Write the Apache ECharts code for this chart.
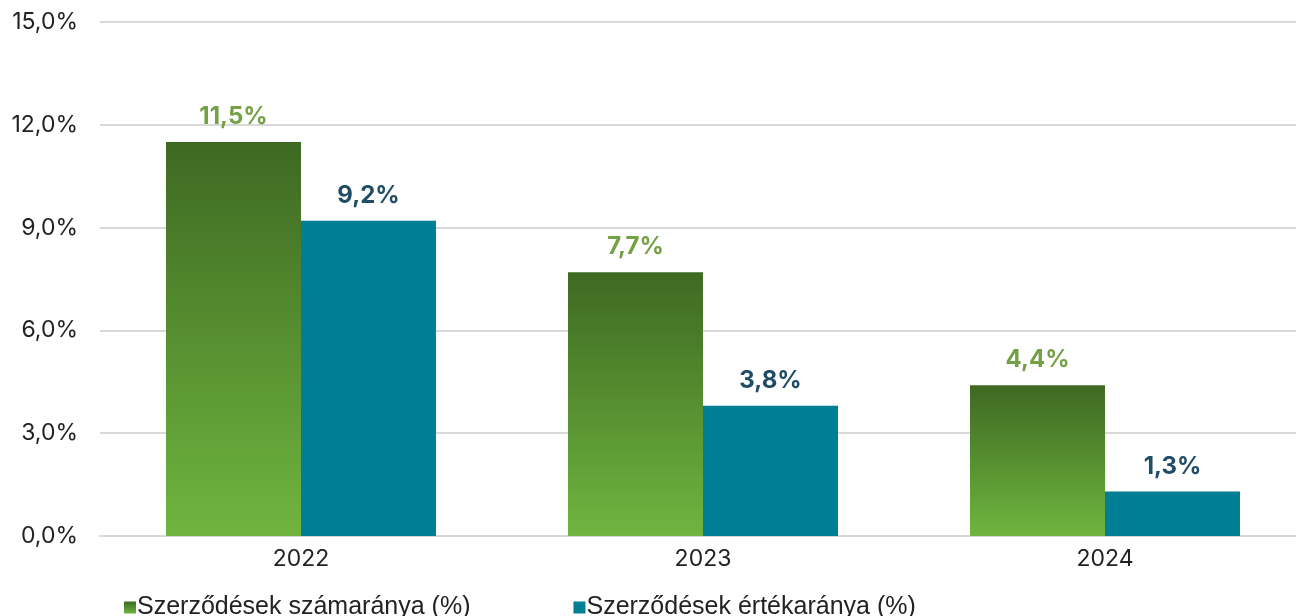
<!DOCTYPE html>
<html>
<head>
<meta charset="utf-8">
<script src="https://cdn.jsdelivr.net/npm/echarts@6/dist/echarts.min.js"></script>
<style>
html, body { margin: 0; padding: 0; background: #fff; }
#main { width: 1296px; height: 616px; }
</style>
</head>
<body>
<div id="main"></div>
<script>
var years = ['2022', '2023', '2024'];
var szamArany = [11.5, 7.7, 4.4];
var ertekArany = [9.2, 3.8, 1.3];
var seriesNames = ['Szerződések számaránya (%)', 'Szerződések értékaránya (%)'];

var myChart = echarts.init(document.getElementById('main'));

function pct(v) {
	return v.toFixed(1).replace('.', ',') + '%';
}

var greenGrad = new echarts.graphic.LinearGradient(0, 0, 0, 1, [
	{ offset: 0, color: '#3e6922' },
	{ offset: 1, color: '#6fb53f' }
]);

var option = {
	animation: false,
	grid: { left: 100, top: 22, width: 1206, bottom: 80, outerBoundsMode: 'none', containLabel: false },
	legend: {
		left: 119,
		top: 590,
		itemWidth: 12,
		itemHeight: 12,
		itemGap: 103,
		icon: 'rect',
		textStyle: { fontFamily: 'Liberation Sans', fontSize: 25, color: '#222', padding: [0, 0, 0, -4] },
		data: seriesNames
	},
	xAxis: {
		type: 'category',
		data: years,
		axisTick: { show: false },
		axisLine: { lineStyle: { color: '#d9d9d9', width: 2 } },
		axisLabel: { fontFamily: 'Inter', fontSize: 23, color: '#222', margin: 12 }
	},
	yAxis: {
		type: 'value',
		min: 0,
		max: 15,
		interval: 3,
		axisLabel: {
			fontFamily: 'Inter', fontSize: 23, color: '#222', margin: 22,
			formatter: function (v) { return pct(v); }
		},
		splitLine: { lineStyle: { color: '#d9d9d9', width: 2 } }
	},
	series: [{
		name: seriesNames[0],
		type: 'bar',
		data: szamArany,
		barWidth: 135,
		barGap: '0%',
		itemStyle: { color: greenGrad },
		label: {
			show: true, position: 'top', distance: 13,
			fontFamily: 'Inter', fontSize: 24, fontWeight: 'bold', color: '#76a046',
			formatter: function (p) { return pct(p.value); }
		}
	}, {
		name: seriesNames[1],
		type: 'bar',
		data: ertekArany,
		barWidth: 135,
		itemStyle: { color: '#007e94' },
		label: {
			show: true, position: 'top', distance: 13,
			fontFamily: 'Inter', fontSize: 24, fontWeight: 'bold', color: '#1f4d66',
			formatter: function (p) { return pct(p.value); }
		}
	}]
};

myChart.setOption(option);
</script>
</body>
</html>
